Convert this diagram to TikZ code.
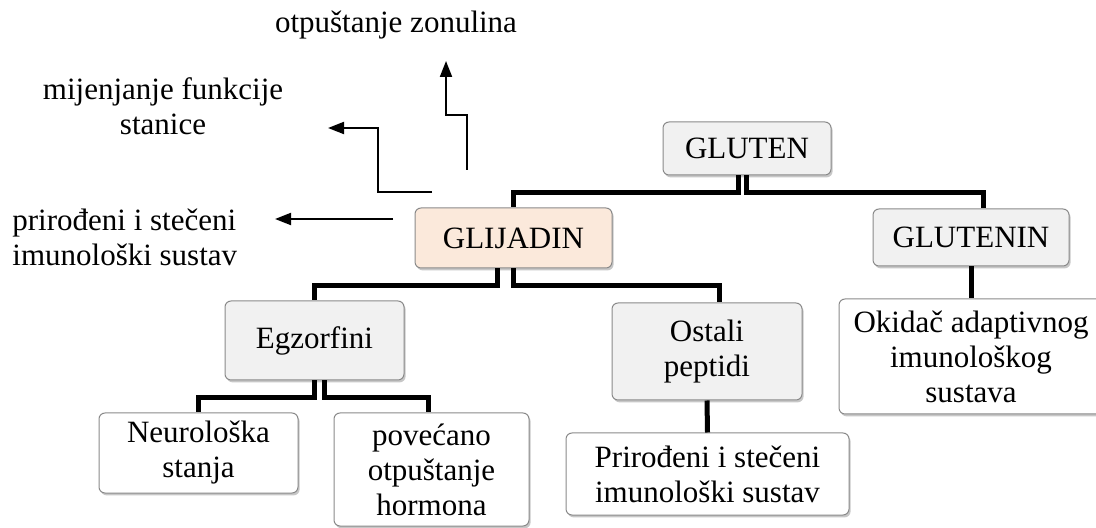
\documentclass[tikz,border=0pt]{standalone}
\usepackage{fontspec}
\setmainfont{Liberation Serif}
\usetikzlibrary{arrows.meta,shadows}
\definecolor{boxgray}{HTML}{F1F1F1}
\definecolor{peach}{HTML}{FBE9DB}
\definecolor{edgegray}{HTML}{8A8A8A}
\begin{document}
\begin{tikzpicture}[x=0.5pt, y=-0.5pt, align=center, font=\fontsize{15.5}{17.5}\selectfont,
  box/.style={draw=edgegray, line width=0.5pt, rounded corners=3pt, fill=boxgray, inner sep=1pt,
    drop shadow={shadow xshift=0.8pt, shadow yshift=-1.2pt, opacity=0.22, fill=black}},
  link/.style={line width=2.5pt},
  arrow/.style={line width=1pt, -{Triangle[length=8pt, width=6pt]}}]

\useasboundingbox (0,0) rectangle (1096,528);

% Protein
\node[box, minimum width=84pt, minimum height=26.5pt] (gluten) at (747,148.5) {GLUTEN};
\node[box, fill=peach, minimum width=98.5pt, minimum height=30pt] (glijadin) at (513.5,238) {GLIJADIN};
\node[box, minimum width=98pt, minimum height=28.5pt] (glutenin) at (971,237.5) {GLUTENIN};

% Peptides
\node[box, minimum width=89.5pt, minimum height=39.5pt] (egzorfini) at (314.5,340.5) {Egzorfini};
\node[box, minimum width=95pt, minimum height=48.5pt] (ostali) at (707,351.5) {Ostali\\peptidi};
\node[box, fill=white, minimum width=132pt, minimum height=57.5pt] (okidac) at (971,356.5) {Okidač adaptivnog\\imunološkog\\sustava};

% Effects
\node[box, fill=white, minimum width=99.5pt, minimum height=40pt] (neuro) at (198.5,453) {Neurološka\\stanja};
\node[box, fill=white, minimum width=97.5pt, minimum height=56.5pt] (hormon) at (431.5,469.5) {povećano\\otpuštanje\\hormona};
\node[box, fill=white, minimum width=141.5pt, minimum height=41pt] (imunost) at (707.5,474) {Prirođeni i stečeni\\imunološki sustav};

% Free labels
\node (zonulin) at (396,25) {otpuštanje zonulina};
\node (funkcija) at (163,106) {mijenjanje funkcije\\stanice};
\node[anchor=west, align=left, inner sep=0pt] (sustav) at (12,237) {prirođeni i stečeni\\imunološki sustav};

% Tree links
\draw[link] ([xshift=-4.5pt]gluten.south) -- ++(0,17) -| (glijadin.north);
\draw[link] ([xshift=-0.5pt]gluten.south) -- ++(0,17) -| ([xshift=6pt]glutenin.north);
\draw[link] ([xshift=-8.25pt]glijadin.south) -- ++(0,17) -| (egzorfini.north);
\draw[link] (glijadin.south) -- ++(0,17) -| ([xshift=6pt]ostali.north);
\draw[link] (egzorfini.south) -- ++(0,17) -| (neuro.north);
\draw[link] ([xshift=5pt]egzorfini.south) -- ++(0,17) -| ([xshift=-1.75pt]hormon.north);
\draw[link] (ostali.south) -- (imunost.north);
\draw[link] (glutenin.south) -- (okidac.north);

% Arrows
\coordinate (a1) at (467,170);
\coordinate (t1) at (446,61);
\coordinate (a2) at (432,192);
\coordinate (t2) at (328,128);
\coordinate (a3) at (393,219);
\coordinate (t3) at (275,219);
\draw[arrow] (a1) -- ++(0,-55) -| (t1);
\draw[arrow] (a2) -- ++(-54,0) |- (t2);
\draw[arrow] (a3) -- (t3);

\end{tikzpicture}
\end{document}
